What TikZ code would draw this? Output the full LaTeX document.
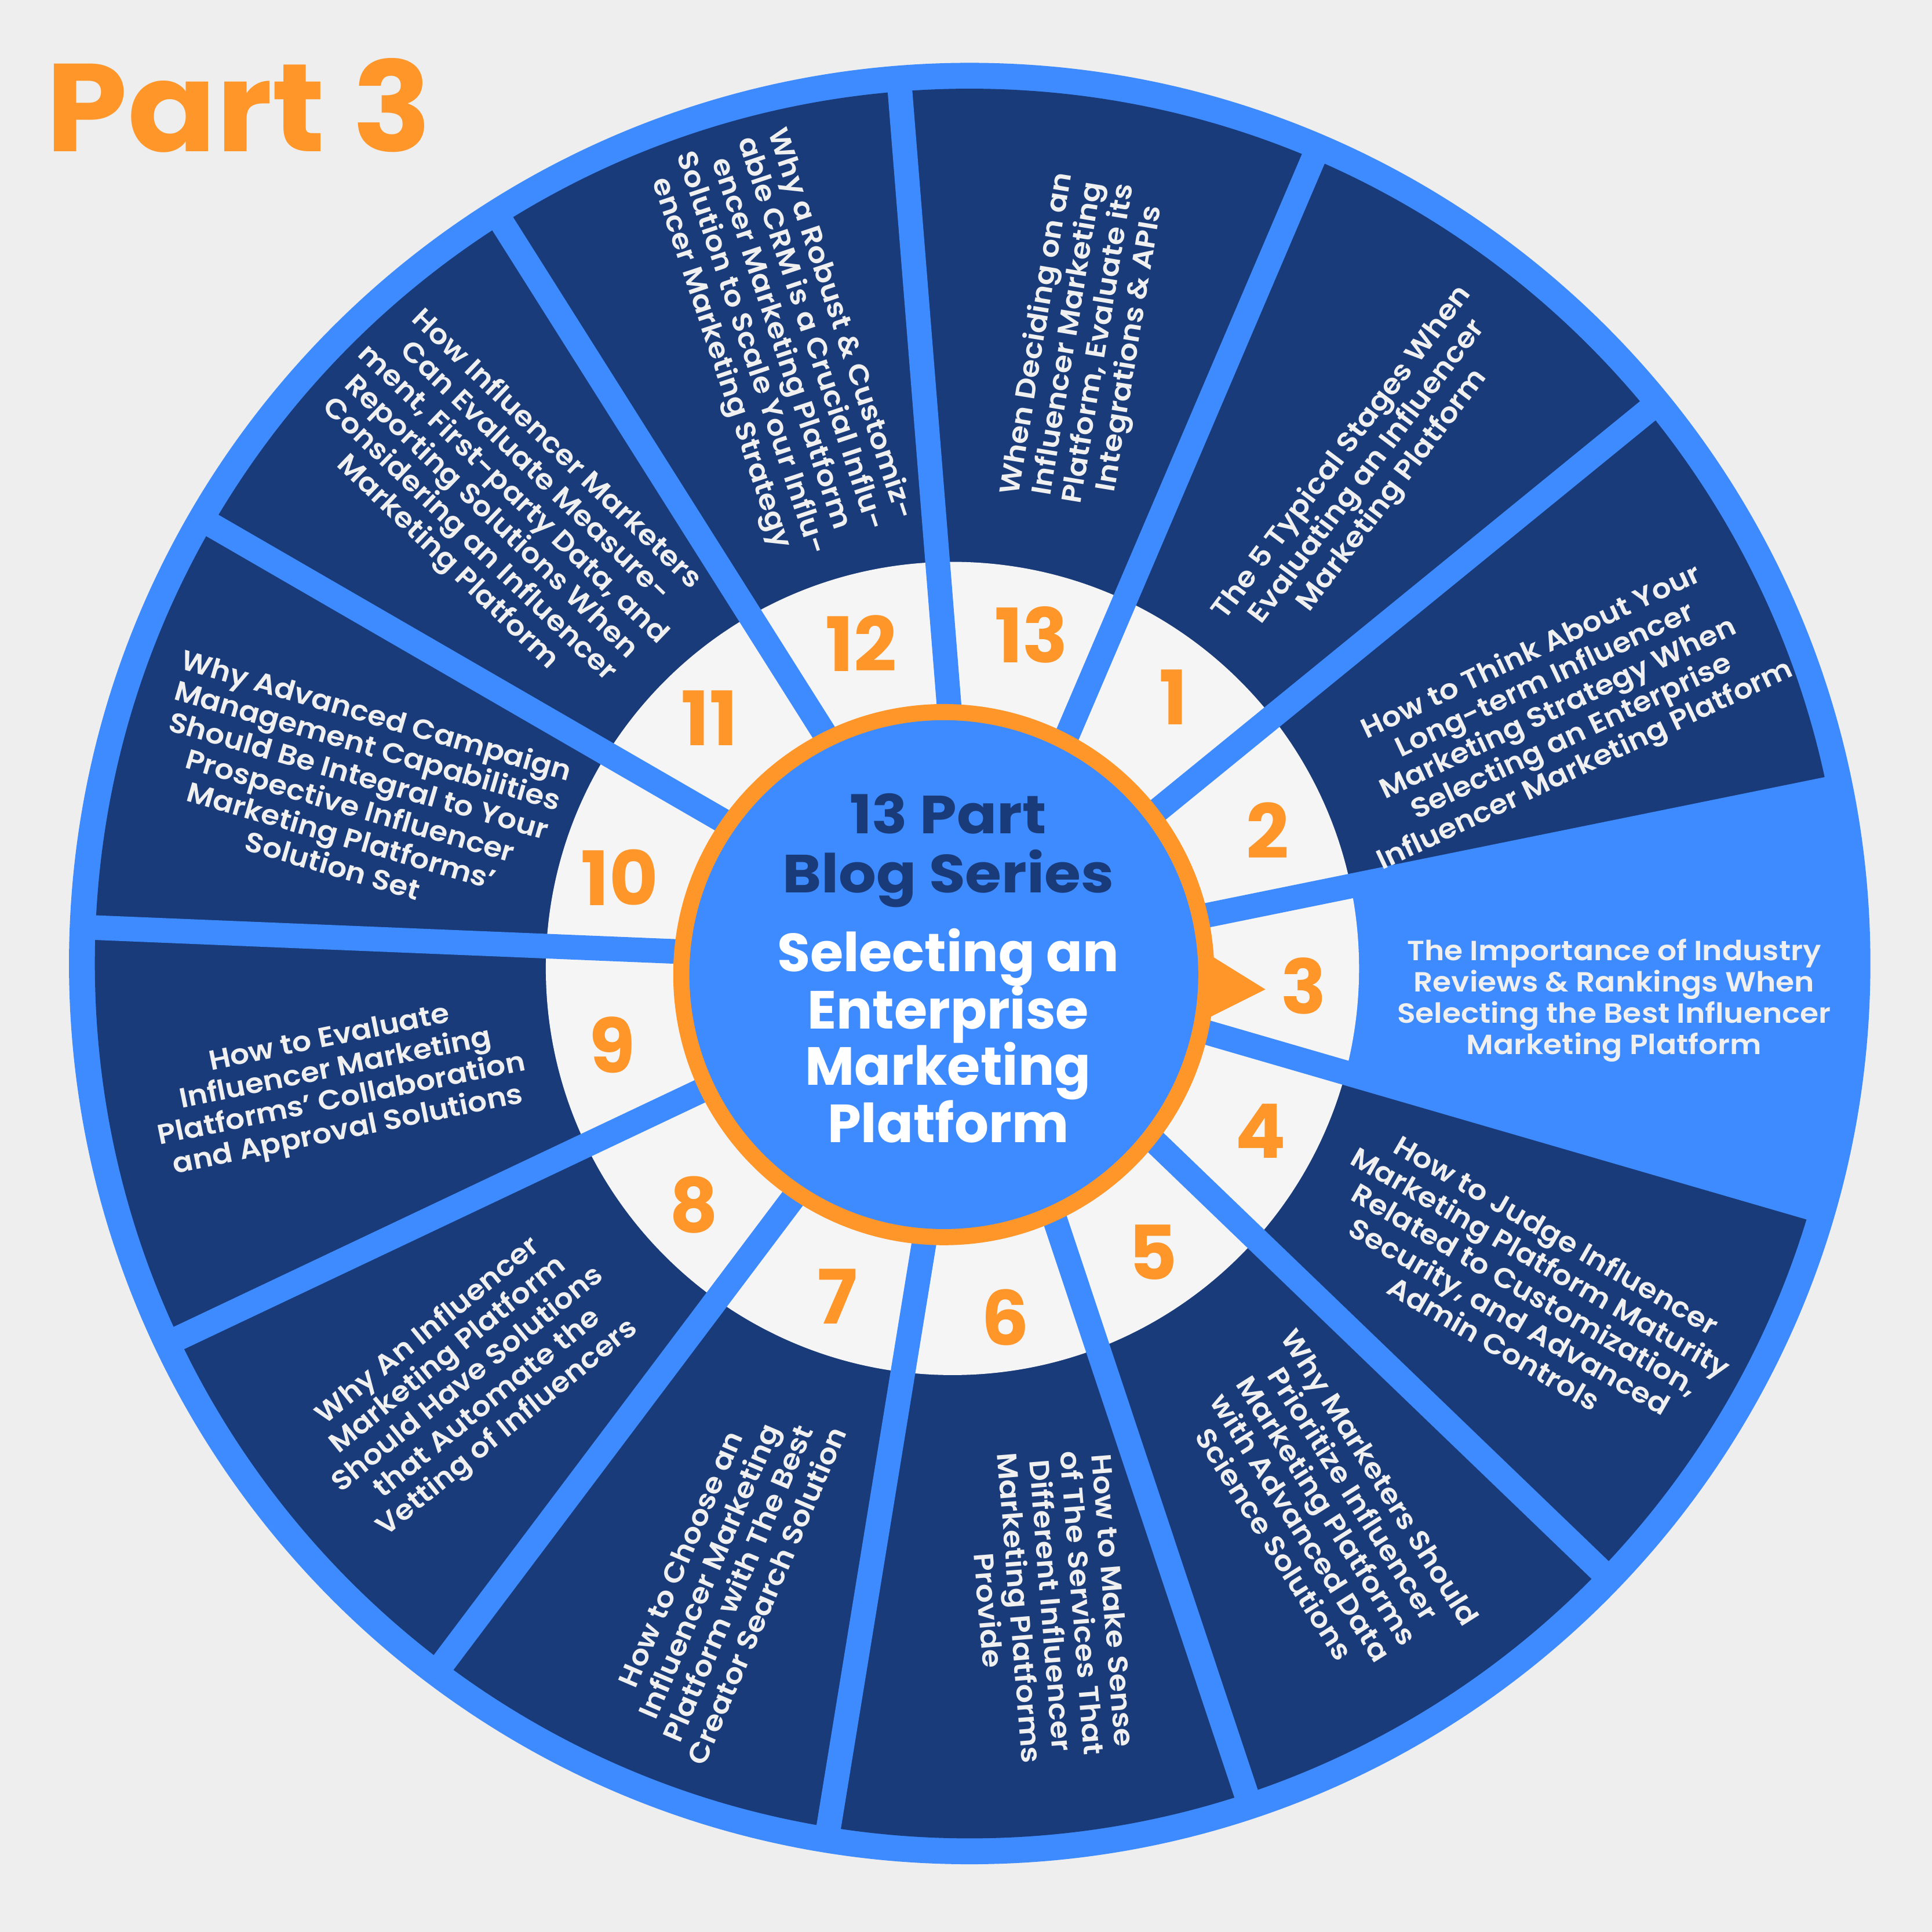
\documentclass[tikz,border=0pt]{standalone}
\usepackage{fontspec}
\setmainfont{Poppins}[UprightFont={* SemiBold},BoldFont={* Bold}]
\newfontfamily\segfont{Poppins}[UprightFont={* SemiBold},BoldFont={* Bold},FakeStretch=1.085]
\newfontfamily\navyfont{Poppins}[UprightFont={* Bold},BoldFont={* Bold},FakeStretch=1.1]
\newfontfamily\partfont{Poppins}[UprightFont={* Bold},BoldFont={* Bold},FakeStretch=1.045]
\definecolor{bgc}{RGB}{238,238,238}
\definecolor{ringblue}{RGB}{62,139,255}
\definecolor{navy}{RGB}{26,59,122}
\definecolor{lightc}{RGB}{245,245,245}
\definecolor{orangec}{RGB}{255,150,41}
\definecolor{segwhite}{RGB}{240,240,240}
\begin{document}
\begin{tikzpicture}[x=0.5pt,y=0.5pt,
  segtext/.style={text=segwhite, align=center, inner sep=0pt,
    font=\segfont\fontsize{11.25}{12.7}\selectfont},
  num/.style={text=orangec, inner sep=0pt,
    font=\bfseries\fontsize{30.5}{30.5}\selectfont},
  titlenavy/.style={text=navy, anchor=base, inner sep=0pt,
    font=\navyfont\fontsize{21.8}{24}\selectfont},
  titlewhite/.style={text=white, anchor=base, inner sep=0pt,
    font=\bfseries\fontsize{21.8}{24}\selectfont},
  spoke/.style={draw=ringblue, line width=10pt}]
% canvas
\fill[bgc] (-787,-786) rectangle (781,782);
\useasboundingbox (-787,-786) rectangle (781,782);
\coordinate (O) at (0,0);
\coordinate (L) at (-14,-4);
\coordinate (I) at (-21,-9);
% wheel
\fill[ringblue] (O) circle (731);
\fill[navy] (O) circle (710);
\fill[ringblue] (O) -- (11.5:725) arc[start angle=11.5, end angle=-16.19, radius=725] -- cycle;
\fill[lightc] (L) circle (330);
\foreach \j in {0,...,12}
  \draw[spoke] (O) -- ({94.57-27.6923*\j}:720);
% centre
\fill[orangec] (I) circle (219.6);
\fill[orangec] (190,10) -- (240,-21) -- (188,-47) -- cycle;
\fill[ringblue] (I) circle (206.5);
% numbers
\node[num] (n1) at (165.4,216.2) {1};
\node[num] (n2) at (241.7,108) {2};
\node[num] (n3) at (271,-18) {3};
\node[num] (n4) at (236,-136) {4};
\node[num] (n5) at (148.8,-234.5) {5};
\node[num] (n6) at (29,-287) {6};
\node[num] (n7) at (-107.5,-270) {7};
\node[num] (n8) at (-224,-195.7) {8};
\node[num] (n9) at (-290,-66) {9};
\node[num] (n10) at (-284,70) {10};
\node[num] (n11) at (-211,199) {11};
\node[num] (n12) at (-88,260) {12};
\node[num] (n13) at (50,267) {13};
% centre title
\node[titlenavy] (c1) at (-17.5,105.5) {13 Part};
\node[titlenavy] (c2) at (-17.5,57.5) {Blog Series};
\node[titlewhite] (c3) at (-17.5,-6.3) {Selecting an};
\node[titlewhite] (c4) at (-17.5,-52.9) {Enterprise};
\node[titlewhite] (c5) at (-17.5,-98.7) {Marketing};
\node[titlewhite] (c6) at (-17.5,-145.3) {Platform};
% segment texts
\node[segtext, rotate=80.7] (t13) at (93,505) {When Deciding on an\\Influencer Marketing\\Platform, Evaluate its\\Integrations \& APIs};
\node[segtext, rotate=53.0] (t1) at (323,399) {The 5 Typical Stages When\\Evaluating an Influencer\\Marketing Platform};
\node[segtext, rotate=25.3] (t2) at (478,206) {How to Think About Your\\Long-term Influencer\\Marketing Strategy When\\Selecting an Enterprise\\Influencer Marketing Platform};
\node[segtext] (t3) at (523,-30) {The Importance of Industry\\Reviews \& Rankings When\\Selecting the Best Influencer\\Marketing Platform};
\node[segtext, rotate=-30.0] (t4) at (451,-264) {How to Judge Influencer\\Marketing Platform Maturity\\Related to Customization,\\Security, and Advanced\\Admin Controls};
\node[segtext, rotate=-57.7] (t5) at (290,-444) {Why Marketers Should\\Prioritize Influencer\\Marketing Platforms\\with Advanced Data\\Science Solutions};
\node[segtext, rotate=-85.4] (t6) at (66,-521) {How to Make Sense\\of The Services That\\Different Influencer\\Marketing Platforms\\Provide};
\node[segtext, rotate=66.9] (t7) at (-200,-498) {How to Choose an\\Influencer Marketing\\Platform with The Best\\Creator Search Solution};
\node[segtext, rotate=39.2] (t8) at (-407,-338) {Why An Influencer\\Marketing Platform\\Should Have Solutions\\that Automate the\\Vetting of Influencers};
\node[segtext, rotate=11.5] (t9) at (-512,-99) {How to Evaluate\\Influencer Marketing\\Platforms’ Collaboration\\and Approval Solutions};
\node[segtext, rotate=-16.2] (t10) at (-499,141) {Why Advanced Campaign\\Management Capabilities\\Should Be Integral to Your\\Prospective Influencer\\Marketing Platforms’\\Solution Set};
\node[segtext, rotate=-43.9] (t11) at (-380,371) {How Influencer Marketers\\Can Evaluate Measure-\\ment, First-party Data, and\\Reporting Solutions When\\Considering an Influencer\\Marketing Platform};
\node[segtext, rotate=-71.6] (t12) at (-154,503) {Why a Robust \& Customiz-\\able CRM is a Crucial Influ-\\encer Marketing Platform\\Solution to Scale Your Influ-\\encer Marketing Strategy};
% heading
\node[text=orangec, anchor=base west, inner sep=0pt,
  font=\partfont\fontsize{50.7}{55}\selectfont] (part) at (-750,659) {Part 3};
\end{tikzpicture}
\end{document}
